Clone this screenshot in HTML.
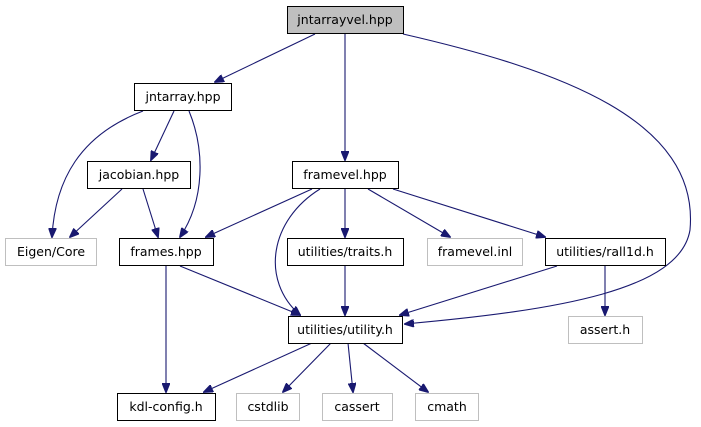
<!DOCTYPE html>
<html><head><style>body{margin:0;background:#fff}svg{display:block}text{font-family:"DejaVu Sans","Liberation Sans",sans-serif;font-size:12.5px;fill:#000;text-anchor:middle}</style></head><body>
<svg width="701" height="427" viewBox="0 0 701 427" xmlns="http://www.w3.org/2000/svg">
<defs><marker id="a" markerWidth="10" markerHeight="8" refX="9" refY="4" orient="auto" markerUnits="userSpaceOnUse"><path d="M0,0 L10,4 L0,8 z" fill="#191970" stroke="#191970"/></marker></defs>
<g fill="none" stroke="#191970" stroke-width="1.1" marker-end="url(#a)">
<path d="M315,34 L215,82"/>
<path d="M345,34 L345,160"/>
<path d="M403,34 C560,70 700,120 690,230 C680,290 560,310 405,324"/>
<path d="M174,111 L151,160"/>
<path d="M143,111 C80,135 55,180 52,237"/>
<path d="M189,111 C205,150 205,200 180,237"/>
<path d="M122,189 L70,237"/>
<path d="M143,189 L158,237"/>
<path d="M312,189 L206,237"/>
<path d="M320,189 C270,220 260,280 300,315"/>
<path d="M345,189 L345,237"/>
<path d="M368,189 L450,237"/>
<path d="M393,189 L545,237"/>
<path d="M180,266 L300,315"/>
<path d="M345,266 L345,315"/>
<path d="M557,266 L400,315"/>
<path d="M605,266 L605,315"/>
<path d="M166,266 L166,392"/>
<path d="M312,343 L204,392"/>
<path d="M331,343 L283,392"/>
<path d="M348,343 L353,392"/>
<path d="M363,343 L428,392"/>
</g>
<g stroke-width="1">
<rect x="287.5" y="6.5" width="116" height="27" fill="#bfbfbf" stroke="#000"/>
<rect x="134.5" y="83.5" width="97" height="27" fill="#fff" stroke="#000"/>
<rect x="87.5" y="161.5" width="103" height="27" fill="#fff" stroke="#000"/>
<rect x="292.5" y="161.5" width="106" height="27" fill="#fff" stroke="#000"/>
<rect x="5.5" y="238.5" width="91" height="27" fill="#fff" stroke="#bfbfbf"/>
<rect x="119.5" y="238.5" width="94" height="27" fill="#fff" stroke="#000"/>
<rect x="287.5" y="238.5" width="116" height="27" fill="#fff" stroke="#000"/>
<rect x="427.5" y="238.5" width="95" height="27" fill="#fff" stroke="#bfbfbf"/>
<rect x="545.5" y="238.5" width="120" height="27" fill="#fff" stroke="#000"/>
<rect x="288.5" y="316.5" width="114" height="27" fill="#fff" stroke="#000"/>
<rect x="568.5" y="316.5" width="74" height="27" fill="#fff" stroke="#bfbfbf"/>
<rect x="117.5" y="393.5" width="98" height="27" fill="#fff" stroke="#000"/>
<rect x="236.5" y="393.5" width="63" height="27" fill="#fff" stroke="#bfbfbf"/>
<rect x="322.5" y="393.5" width="70" height="27" fill="#fff" stroke="#bfbfbf"/>
<rect x="415.5" y="393.5" width="63" height="27" fill="#fff" stroke="#bfbfbf"/>
</g>
<text x="345" y="24">jntarrayvel.hpp</text>
<text x="183" y="101">jntarray.hpp</text>
<text x="139" y="179">jacobian.hpp</text>
<text x="345" y="179">framevel.hpp</text>
<text x="51" y="256">Eigen/Core</text>
<text x="166" y="256">frames.hpp</text>
<text x="345" y="256">utilities/traits.h</text>
<text x="475" y="256">framevel.inl</text>
<text x="605" y="256">utilities/rall1d.h</text>
<text x="345" y="334">utilities/utility.h</text>
<text x="605" y="334">assert.h</text>
<text x="166" y="411">kdl-config.h</text>
<text x="268" y="411">cstdlib</text>
<text x="357" y="411">cassert</text>
<text x="447" y="411">cmath</text>
</svg>
</body></html>
